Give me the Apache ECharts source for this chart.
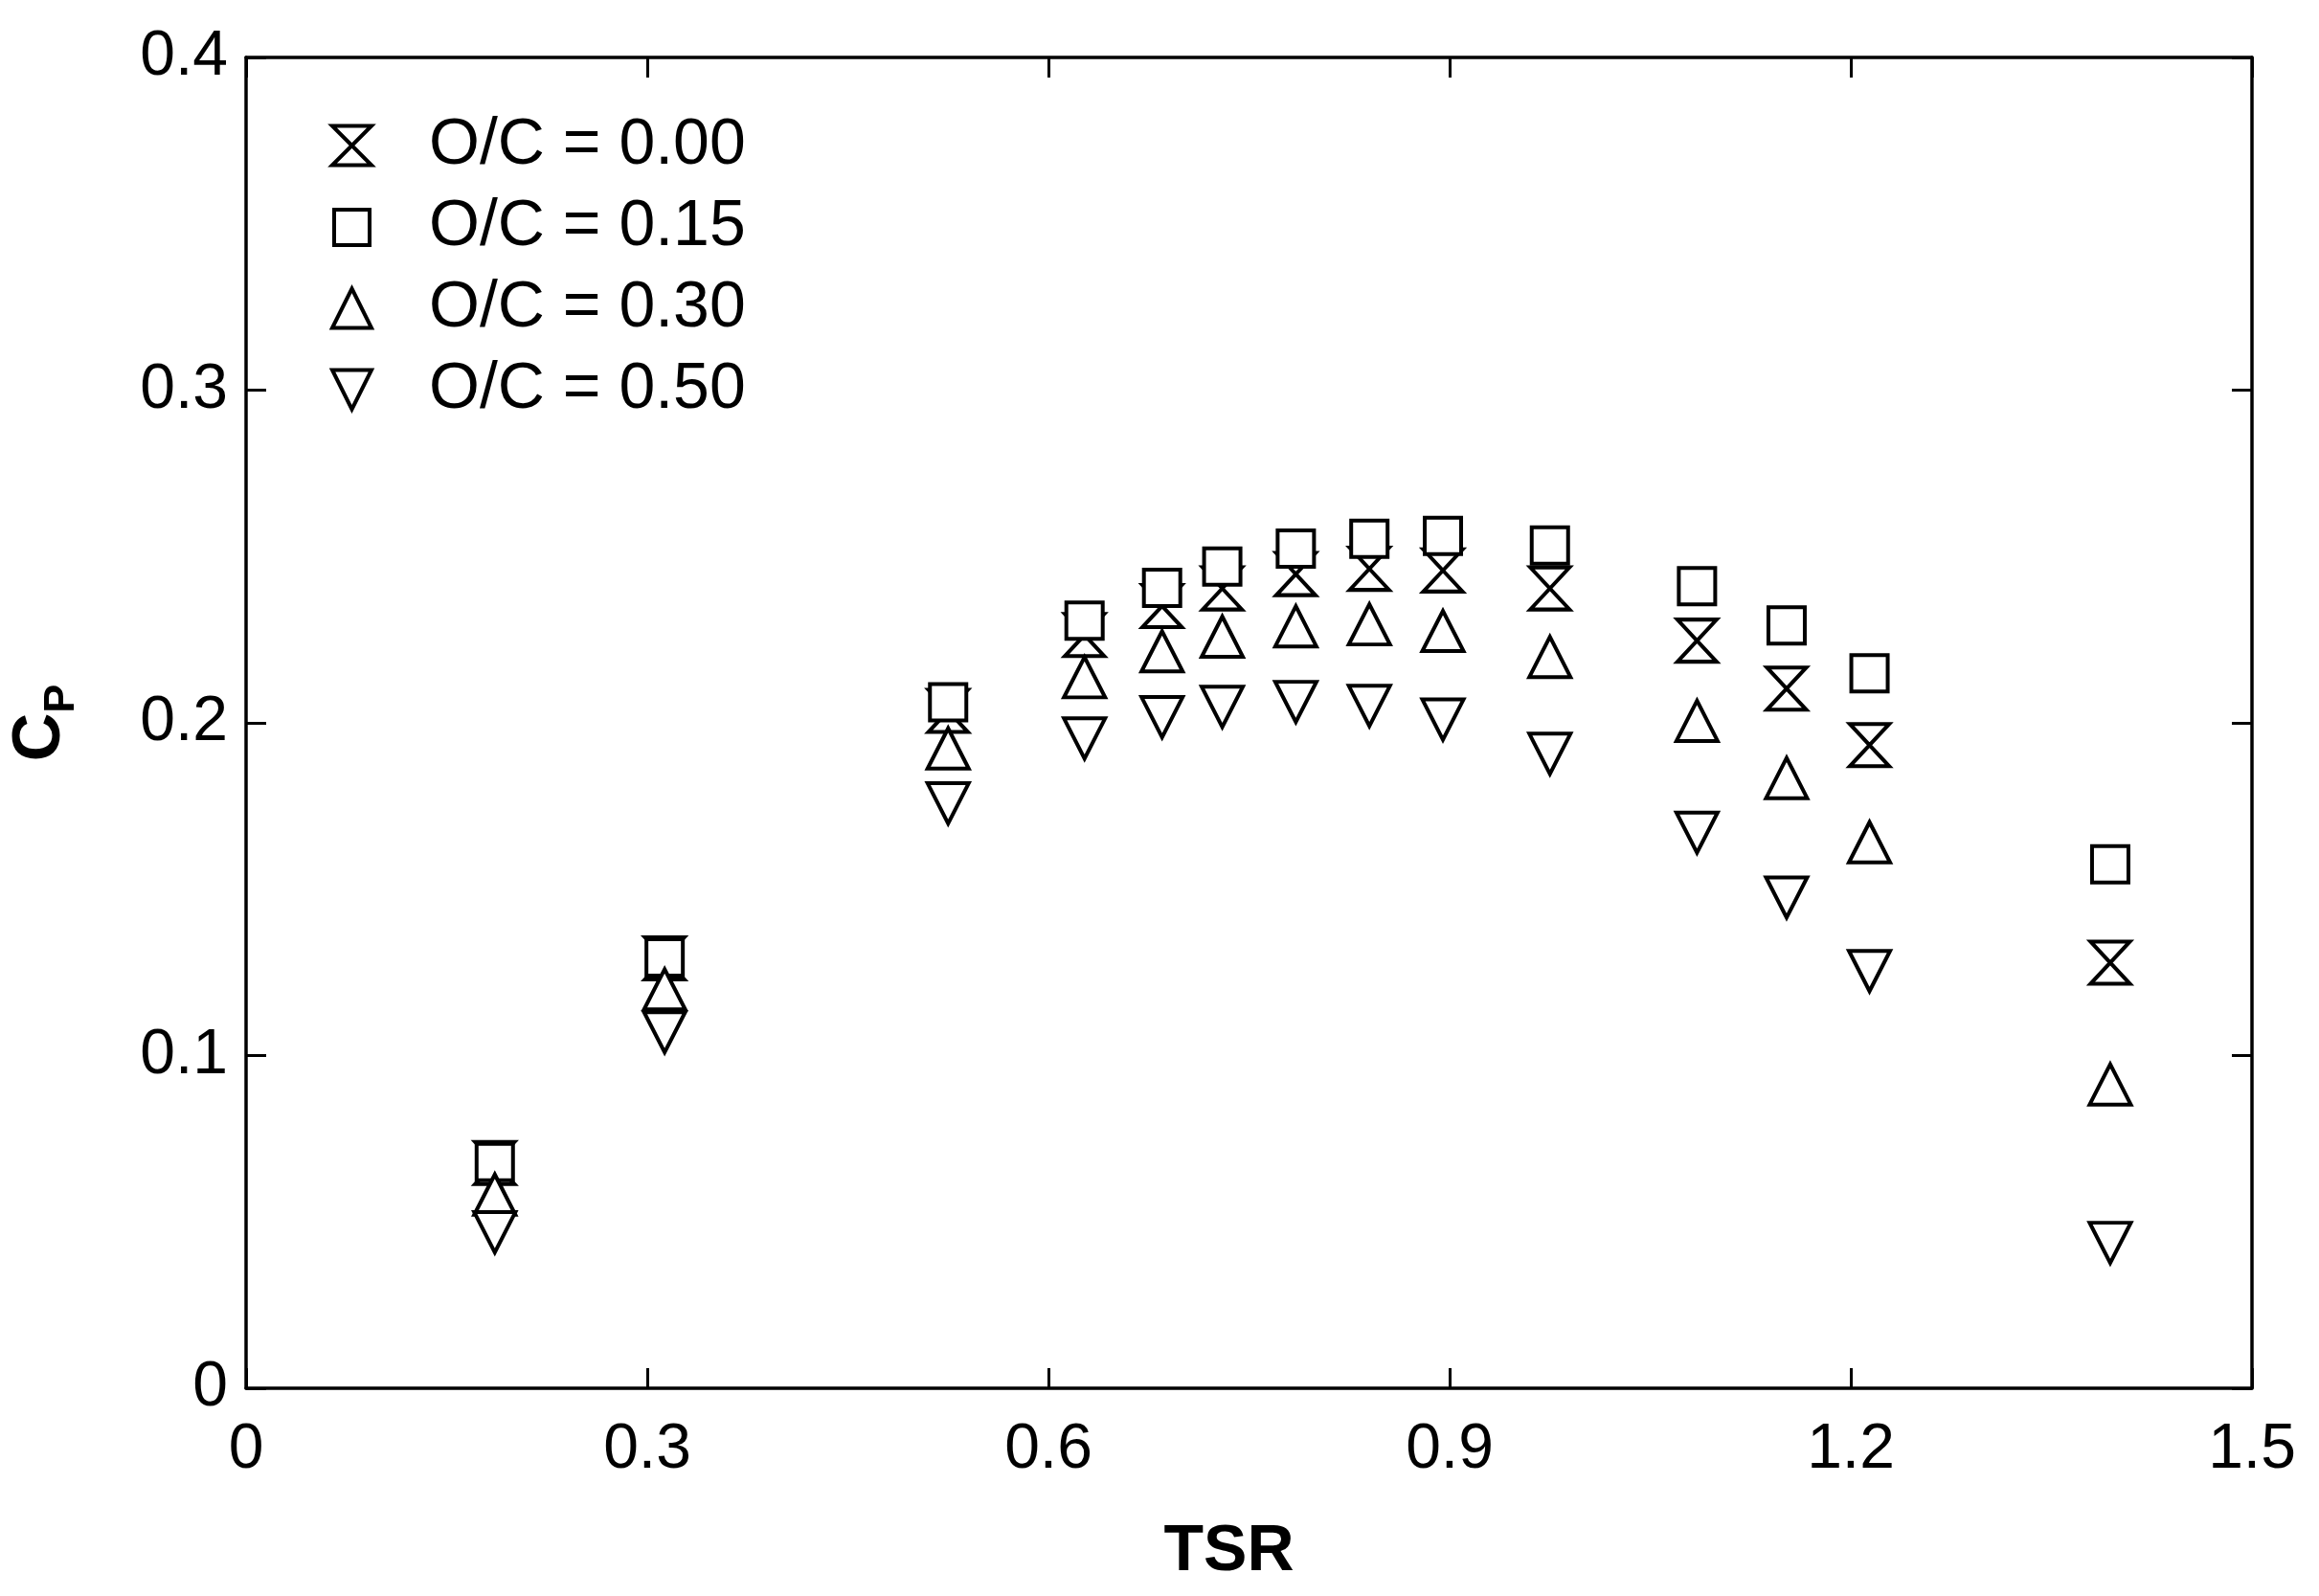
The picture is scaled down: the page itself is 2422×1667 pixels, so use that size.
<!DOCTYPE html>
<html>
<head>
<meta charset="utf-8">
<script src="https://cdn.jsdelivr.net/npm/echarts@6/dist/echarts.min.js"></script>
<style>
html,body{margin:0;padding:0;background:#fff;}
#chart{width:2422px;height:1667px;}
</style>
</head>
<body>
<div id="chart"></div>
<script>
// Tip speed ratio (shared by all series)
const tsr = [0.186, 0.313, 0.525, 0.627, 0.685, 0.730, 0.785, 0.840, 0.895, 0.975, 1.085, 1.152, 1.214, 1.394];
// Power coefficient Cp for each overlap ratio
const cpOC000 = [0.0677, 0.1292, 0.2036, 0.2264, 0.2351, 0.2404, 0.2447, 0.2463, 0.2458, 0.2404, 0.2247, 0.2103, 0.1933, 0.1279];
const cpOC015 = [0.0680, 0.1295, 0.2062, 0.2307, 0.2406, 0.2470, 0.2524, 0.2553, 0.2562, 0.2533, 0.2411, 0.2293, 0.2149, 0.1575];
const cpOC030 = [0.0582, 0.1199, 0.1923, 0.2137, 0.2215, 0.2259, 0.2290, 0.2296, 0.2276, 0.2198, 0.2006, 0.1834, 0.1641, 0.0913];
const cpOC050 = [0.0469, 0.1070, 0.1758, 0.1953, 0.2017, 0.2048, 0.2063, 0.2051, 0.2010, 0.1907, 0.1670, 0.1475, 0.1254, 0.0437];
const seriesNames = ['O/C = 0.00', 'O/C = 0.15', 'O/C = 0.30', 'O/C = 0.50'];
const xTicks = {min: 0, max: 1.5, interval: 0.3};
const yTicks = {min: 0, max: 0.4, interval: 0.1};

const FONT = '"Liberation Sans", Arial, sans-serif';
const HOURGLASS = 'path://M0,0 L2,0 L0,2 L2,2 Z';
const TRI_UP = 'path://M1,0 L2,2 L0,2 Z';
const TRI_DOWN = 'path://M0,0 L2,0 L1,2 Z';
const LEGEND_SQUARE = 'path://M0,0 M41,44 M2,4 L39,4 L39,41 L2,41 Z';

function pairs(ys){ return tsr.map((x,i)=>[x, ys[i]]); }

const markerStyle = {color: '#fff', borderColor: '#000', borderWidth: 4, opacity: 1};

const axisLine = {show: true, onZero: false, lineStyle: {color: '#000', width: 3.5}};
const axisTick = {show: true, inside: true, length: 21, lineStyle: {color: '#000', width: 3}};

const chart = echarts.init(document.getElementById('chart'));
chart.setOption({
  backgroundColor: '#fff',
  animation: false,
  grid: {left: 257, right: 70, top: 60, bottom: 217, outerBoundsMode: 'none', containLabel: false},
  legend: {
    orient: 'vertical', left: 340, top: 113,
    itemWidth: 41, itemHeight: 44, itemGap: 17,
    itemStyle: {color: '#fff', borderColor: '#000', borderWidth: 4, opacity: 1},
    textStyle: {fontSize: 68, color: '#000', fontFamily: FONT, padding: [0, 0, 0, 55]},
    data: [
      {name: seriesNames[0], icon: HOURGLASS},
      {name: seriesNames[1], icon: LEGEND_SQUARE},
      {name: seriesNames[2], icon: TRI_UP},
      {name: seriesNames[3], icon: TRI_DOWN}
    ]
  },
  xAxis: [
    {type: 'value', position: 'bottom', min: xTicks.min, max: xTicks.max, interval: xTicks.interval,
     axisLine: axisLine, axisTick: axisTick, splitLine: {show: false},
     axisLabel: {fontSize: 66, color: '#000', fontFamily: FONT, margin: 32},
     name: 'TSR', nameLocation: 'middle', nameGap: 137,
     nameTextStyle: {fontSize: 68, fontWeight: 'bold', color: '#000', fontFamily: FONT, padding: [0, 42, 0, 0]}},
    {type: 'value', position: 'top', min: xTicks.min, max: xTicks.max, interval: xTicks.interval,
     axisLine: axisLine, axisTick: axisTick, splitLine: {show: false}, axisLabel: {show: false}}
  ],
  yAxis: [
    {type: 'value', position: 'left', min: yTicks.min, max: yTicks.max, interval: yTicks.interval,
     axisLine: axisLine, axisTick: axisTick, splitLine: {show: false},
     axisLabel: {fontSize: 66, color: '#000', fontFamily: FONT, margin: 19},
     name: '{c|C}{p|P}', nameLocation: 'middle', nameGap: 170, nameRotate: 90,
     nameTextStyle: {
       rich: {
         c: {fontSize: 70, fontWeight: 'bold', color: '#000', fontFamily: FONT},
         p: {fontSize: 45, fontWeight: 'bold', color: '#000', fontFamily: FONT, padding: [44, 0, 0, 0]}
       }
     }},
    {type: 'value', position: 'right', min: yTicks.min, max: yTicks.max, interval: yTicks.interval,
     axisLine: axisLine, axisTick: axisTick, splitLine: {show: false}, axisLabel: {show: false}}
  ],
  series: [
    {name: seriesNames[0], type: 'scatter', data: pairs(cpOC000), symbol: HOURGLASS, symbolSize: [41, 44],
     symbolKeepAspect: false, itemStyle: markerStyle, z: 2},
    {name: seriesNames[1], type: 'scatter', data: pairs(cpOC015), symbol: 'rect', symbolSize: 38,
     itemStyle: markerStyle, z: 3},
    {name: seriesNames[2], type: 'scatter', data: pairs(cpOC030), symbol: TRI_UP, symbolSize: [43, 42],
     symbolKeepAspect: false, itemStyle: markerStyle, z: 4},
    {name: seriesNames[3], type: 'scatter', data: pairs(cpOC050), symbol: TRI_DOWN, symbolSize: [43, 42],
     symbolKeepAspect: false, itemStyle: markerStyle, z: 5}
  ]
});
</script>
</body>
</html>
